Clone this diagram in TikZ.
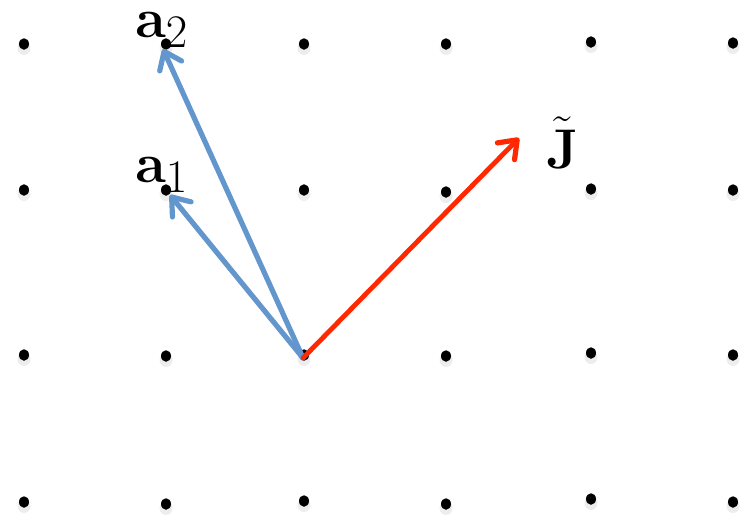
\documentclass[tikz,border=0pt]{standalone}
\usetikzlibrary{arrows.meta,shapes.geometric}
\usepackage{graphicx}
\definecolor{vecblue}{RGB}{99,150,205}
\definecolor{vecred}{RGB}{255,40,0}
\tikzset{
  latdot/.style={ellipse,fill=black,inner sep=0pt,minimum width=10pt,minimum height=11.5pt},
  dotshade/.style={ellipse,fill=black,fill opacity=0.07,inner sep=0pt,minimum width=13pt,minimum height=14pt},
  vec/.style={line width=5.2pt,line cap=round,-{Straight Barb[length=16pt,width=24pt,line width=5.2pt,round]}},
  lbl/.style={inner sep=0pt,anchor=base west}
}
\newcommand{\biglbl}[1]{\scalebox{2.25}{\Huge #1}}
\begin{document}
\begin{tikzpicture}[x=1pt,y=-1pt]
\useasboundingbox (0,0) rectangle (746,515);
% lattice dots
\foreach \c/\x/\ya/\yb/\yc/\yd in {1/24/44/190/355/502, 2/166/44/190/356/504, 3/304/44/190/355/501,
    4/446/44/192/356/504, 5/591/42/189/353/499, 6/733/43/190/355/502}{
  \node[dotshade] at (\x,\ya+4) {};
  \node[dotshade] at (\x,\yb+4) {};
  \node[dotshade] at (\x,\yc+4) {};
  \node[dotshade] at (\x,\yd+4) {};
  \node[latdot] (d\c1) at (\x,\ya) {};
  \node[latdot] (d\c2) at (\x,\yb) {};
  \node[latdot] (d\c3) at (\x,\yc) {};
  \node[latdot] (d\c4) at (\x,\yd) {};
}
\coordinate (o) at (303,358);
\coordinate (t1) at (170,195);
\coordinate (t2) at (163,49);
\coordinate (tj) at (519,138);
\draw[vec,vecblue] (o) -- (t1);
\draw[vec,vecblue] (o) -- (t2);
\draw[vec,vecred,line width=4.8pt] (o) -- (tj);
\node[lbl] (la2) at (135,37) {\biglbl{$\mathbf{a}_2$}};
\node[lbl] (la1) at (135,182) {\biglbl{$\mathbf{a}_1$}};
\node[lbl] (lj) at (546,168) {\biglbl{$\tilde{\mathbf{J}}$}};
\end{tikzpicture}
\end{document}
